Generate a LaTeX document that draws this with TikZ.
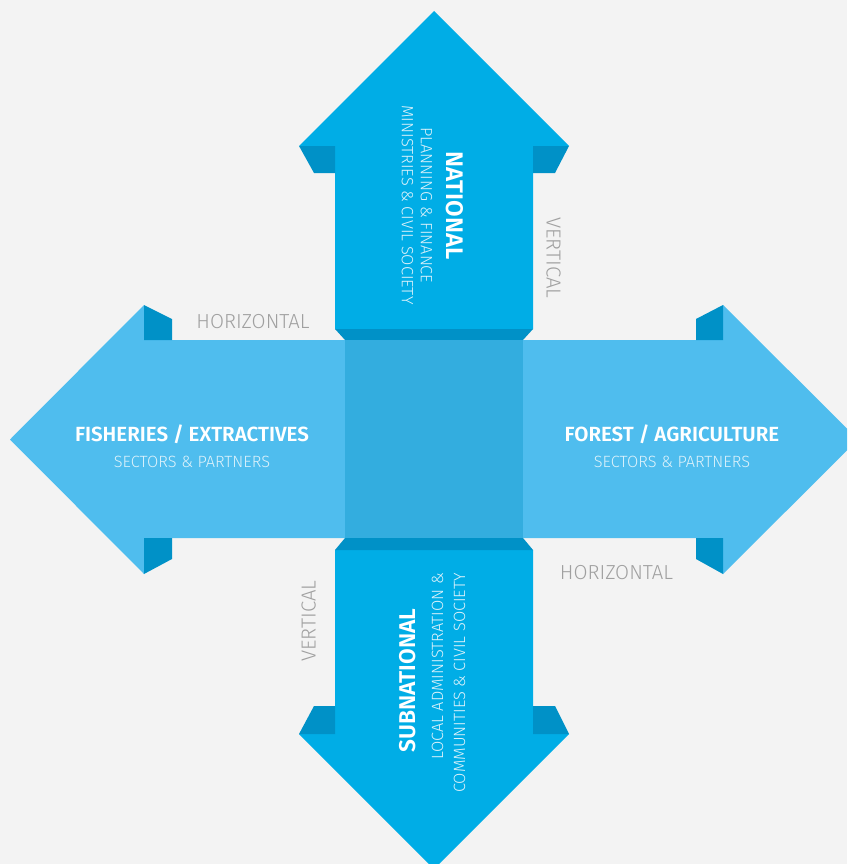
\documentclass[tikz,border=0pt]{standalone}
\usepackage{fontspec}
\setmainfont{Fira Sans}
\newfontfamily\flight{Fira Sans Light}
\newfontfamily\fsemi{Fira Sans SemiBold}
\definecolor{bgc}{HTML}{F3F3F3}
\definecolor{vblue}{HTML}{00ADE6}
\definecolor{fold}{HTML}{0091C7}
\definecolor{hblue}{HTML}{4FBDEE}
\definecolor{cblue}{HTML}{33ADDF}
\definecolor{greytxt}{HTML}{A0A0A0}
\definecolor{subtxt}{HTML}{DDF2FB}
\tikzset{
  title/.style={inner sep=0pt, text depth=0pt, text height=14.1pt, text=white, font=\fsemi\fontsize{20.5}{20.5}\selectfont},
  vtitle/.style={inner sep=0pt, text depth=0pt, text height=#1*0.69pt, text=white, font=\fsemi\fontsize{#1}{#1}\selectfont},
  subtitle/.style={inner sep=0pt, text depth=0pt, text height=11.2pt, text=subtxt, font=\flight\fontsize{16.3}{16.3}\selectfont},
  axislabel/.style={inner sep=0pt, text depth=0pt, text height=14pt, text=greytxt, font=\flight\fontsize{20.3}{20.3}\selectfont},
}
\begin{document}
\begin{tikzpicture}[x=1pt,y=-1pt]
\useasboundingbox (0,0) rectangle (847,864);
\fill[bgc] (0,0) rectangle (847,864);
\begin{scope}
\clip (0,0) rectangle (847,864);
% top arrow
\fill[vblue] (434,11) -- (569,146) -- (533,146) -- (533,329) -- (335,329) -- (335,146) -- (299,146) -- cycle;
\fill[fold] (299,146) -- (335,146) -- (335,173) -- (314,173) -- cycle;
\fill[fold] (533,146) -- (569,146) -- (555,173) -- (533,173) -- cycle;
\fill[fold] (335,329) -- (533,329) -- (523,340) -- (345,340) -- cycle;
% bottom arrow
\fill[vblue] (335,550) -- (533,550) -- (533,734) -- (569,734) -- (434,869) -- (299,734) -- (335,734) -- cycle;
\fill[fold] (314,706) -- (335,706) -- (335,734) -- (299,734) -- cycle;
\fill[fold] (533,706) -- (555,706) -- (569,734) -- (533,734) -- cycle;
\fill[fold] (345,538) -- (523,538) -- (533,550) -- (335,550) -- cycle;
% left arrow
\fill[hblue] (10,439.5) -- (144,305) -- (144,340) -- (345,340) -- (345,538) -- (144,538) -- (144,574) -- cycle;
\fill[fold] (144,305) -- (172,319) -- (172,340) -- (144,340) -- cycle;
\fill[fold] (144,538) -- (172,538) -- (172,559) -- (144,574) -- cycle;
% right arrow
\fill[hblue] (523,340) -- (723,340) -- (723,305) -- (858,439.5) -- (723,574) -- (723,538) -- (523,538) -- cycle;
\fill[fold] (723,305) -- (696,319) -- (696,340) -- (723,340) -- cycle;
\fill[fold] (723,574) -- (696,559) -- (696,538) -- (723,538) -- cycle;
% centre
\fill[cblue] (345,340) rectangle (523,538);
\end{scope}
% texts
\node[title] (fish) at (192,434.5) {FISHERIES / EXTRACTIVES};
\node[subtitle] (fishsub) at (192,461.5) {SECTORS \& PARTNERS};
\node[title] (forest) at (672,434.5) {FOREST / AGRICULTURE};
\node[subtitle] (forestsub) at (672,461.5) {SECTORS \& PARTNERS};
\node[vtitle=24, rotate=-90] (nat) at (455,205.5) {NATIONAL};
\node[subtitle, rotate=-90] (nat1) at (426.5,205.5) {PLANNING \& FINANCE};
\node[subtitle, rotate=-90] (nat2) at (407.5,205) {MINISTRIES \& CIVIL SOCIETY};
\node[vtitle=22.8, rotate=90] (sub) at (408,680.5) {SUBNATIONAL};
\node[subtitle, rotate=90, anchor=east] (sub1) at (437.5,573) {LOCAL ADMINISTRATION \&};
\node[subtitle, rotate=90, anchor=east] (sub2) at (459.5,573) {COMMUNITIES \& CIVIL SOCIETY};
\node[axislabel] (h1) at (253,321) {HORIZONTAL};
\node[axislabel] (h2) at (616.5,572) {HORIZONTAL};
\node[axislabel, rotate=-90] (v1) at (553.5,258) {VERTICAL};
\node[axislabel, rotate=90] (v2) at (308.5,621) {VERTICAL};
\end{tikzpicture}
\end{document}
